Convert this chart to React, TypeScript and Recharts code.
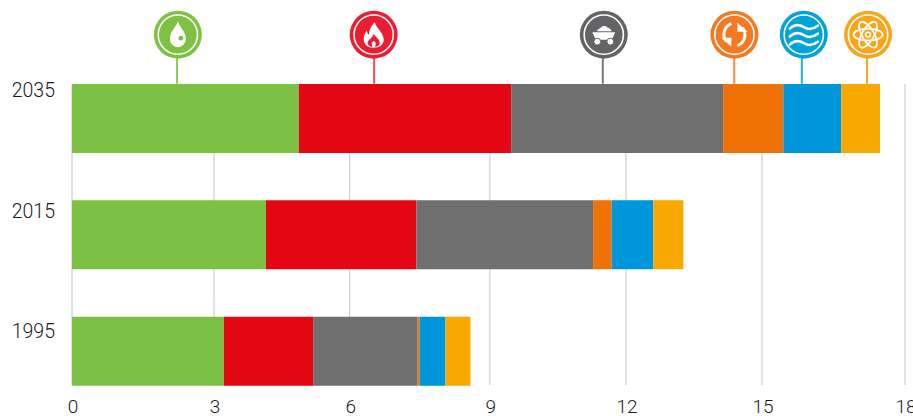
import React from "react";
import { BarChart, Bar, XAxis, YAxis, CartesianGrid, ReferenceDot } from "recharts";

const years = ["2035", "2015", "1995"];
const oil = [4.9, 4.19, 3.28];
const gas = [4.59, 3.25, 1.93];
const coal = [4.58, 3.82, 2.25];
const renewables = [1.3, 0.4, 0.05];
const hydro = [1.25, 0.9, 0.56];
const nuclear = [0.84, 0.65, 0.54];

const xTickValues = [0, 3.07, 6.0, 9.03, 11.97, 14.91, 18];
const xTickLabels = ["0", "3", "6", "9", "12", "15", "18"];
const yLabelLift = [28, 23.5, 20];

const seriesNames = ["oil", "gas", "coal", "renewables", "hydro", "nuclear"];
const barColors = ["#7CC143", "#E30613", "#6F6F6F", "#F07205", "#0096DB", "#F8A800"];
const pinColors = ["#7DC242", "#EE1C30", "#636466", "#F47920", "#00A3DA", "#F9A51A"];
const stemColors = ["#8CCB5A", "#F04656", "#7A7A7C", "#F68B3E", "#1BB5C9", "#F9A51A"];
const pinValues = [2.27, 6.53, 11.47, 14.31, 15.77, 17.18];
const pinShift = [0.8, -0.5, 1, 0.2, 2, 1];

const data = years.map((year, i) => ({
  year,
  oil: oil[i],
  gas: gas[i],
  coal: coal[i],
  renewables: renewables[i],
  hydro: hydro[i],
  nuclear: nuclear[i],
}));

const font = "Roboto, sans-serif";

function Icon({ kind, color }: { kind: number; color: string }) {
  const w = { fill: "none", stroke: "#fff", strokeLinecap: "round" as const };
  if (kind === 0)
    return (
      <g>
        <path d="M0,-13.5 C2,-7 8,-3 8,4 A8,8.5 0 1 1 -8,4 C-8,-3 -2,-7 0,-13.5Z" fill="#fff" />
        <circle cx={3} cy={3.5} r={2.4} fill={color} />
      </g>
    );
  if (kind === 1)
    return (
      <g>
        <path d="M1,-12.5 C3,-6 10,-2 10,5 C10,10 6,13 0,13 C-6,13 -10,10 -10,4 C-10,0 -8,-2 -7,-4 C-6.5,-2 -6,-1 -4.5,0 C-5,-5 -2,-9 1,-12.5Z" fill="#fff" />
        <path d="M0,-1 C1,2 6,4 6,8 C6,11 3,12 1.5,12 L2,8 L0,6 L-2,8 L-1.5,12 C-3,12 -6,11 -6,8 C-6,5 -1,3 0,-1Z" fill={color} />
      </g>
    );
  if (kind === 2)
    return (
      <g fill="#fff">
        <path d="M-7,-3.5 C-6,-6 -4,-6 -3,-7 C-1,-9 2,-9 3,-7.5 C5,-7 7,-6 8,-3.5Z" />
        <path d="M-11.5,-2.5 L11.5,-2.5 L8,5 L-8,5Z" />
        <circle cx={-6.5} cy={7} r={3.4} stroke={color} strokeWidth={1} />
        <circle cx={6.5} cy={7} r={3.4} stroke={color} strokeWidth={1} />
      </g>
    );
  if (kind === 3)
    return (
      <g>
        <path d="M-3,-11 A11.5,11.5 0 0 0 -8,7" {...w} strokeWidth={3} strokeLinecap="butt" />
        <path d="M3,11 A11.5,11.5 0 0 0 8,-7" {...w} strokeWidth={3} strokeLinecap="butt" />
        <path d="M-13,3 L-3,3 L-3,12Z" fill="#fff" />
        <path d="M13,-3 L3,-3 L3,-12Z" fill="#fff" />
      </g>
    );
  if (kind === 4)
    return (
      <g {...w} strokeWidth={2.6}>
        <path d="M-14,-6 C-9,-11 -4,-10 0,-7.5 C4,-5 9,-5 14,-9" />
        <path d="M-14,2 C-9,-3 -4,-2 0,0.5 C4,3 9,3 14,-1" />
        <path d="M-14,10 C-9,5 -4,6 0,8.5 C4,11 9,11 14,7" />
      </g>
    );
  return (
    <g {...w} strokeWidth={1.8}>
      <ellipse rx={14.5} ry={6} />
      <ellipse rx={14.5} ry={6} transform="rotate(60)" />
      <ellipse rx={14.5} ry={6} transform="rotate(120)" />
      <circle r={3.6} fill="#fff" stroke={color} strokeWidth={0.8} />
      <circle r={1.6} fill={color} stroke="none" />
    </g>
  );
}

function Pin(props: any) {
  const { cx, cy, index } = props;
  const color = pinColors[index];
  const iconY = cy - 83.5;
  const iconX = cx + pinShift[index];
  return (
    <g>
      <line x1={cx} x2={cx} y1={iconY + 20} y2={cy - 34.5} stroke={stemColors[index]} strokeWidth={2} />
      <circle cx={iconX} cy={iconY} r={24} fill={color} />
      <circle cx={iconX} cy={iconY} r={19.6} fill="none" stroke="#fff" strokeWidth={1.6} />
      <g transform={`translate(${iconX},${iconY})`}>
        <Icon kind={index} color={color} />
      </g>
    </g>
  );
}

function YTick(props: any) {
  const { x, y, payload, index } = props;
  return (
    <text x={x + 5} y={y - yLabelLift[index]} dy="0.36em" textAnchor="end" fontFamily={font} fontWeight={300} fontSize={19.5} fill="#1a1a1a">
      {payload.value}
    </text>
  );
}

function XTick(props: any) {
  const { x, y, index } = props;
  return (
    <text x={x + 1} y={y + 1} dy="0.36em" textAnchor="middle" fontFamily={font} fontWeight={300} fontSize={19} fill="#1a1a1a">
      {xTickLabels[index]}
    </text>
  );
}

export default function App() {
  return (
    <div style={{ position: "absolute", left: 0, top: 0, width: 913, height: 416, background: "#fff" }}>
      <BarChart
        width={913}
        height={416}
        data={data}
        layout="vertical"
        barSize={69}
        margin={{ top: 84, right: 8, bottom: 0, left: 0 }}
      >
        <CartesianGrid horizontal={false} vertical stroke="#c4c4c4" strokeWidth={1} />
        <XAxis
          type="number"
          domain={[0, 18]}
          ticks={xTickValues}
          interval={0}
          axisLine={false}
          tickLine={false}
          height={31}
          tick={<XTick />}
          tickMargin={14}
        />
        <YAxis
          type="category"
          dataKey="year"
          width={72}
          axisLine={false}
          tickLine={false}
          padding={{ top: -24, bottom: -24 }}
          tick={<YTick />}
          tickMargin={16}
        />
        {seriesNames.map((name, i) => (
          <Bar key={name} dataKey={name} stackId="a" fill={barColors[i]} isAnimationActive={false} />
        ))}
        {pinValues.map((v, i) => (
          <ReferenceDot
            key={seriesNames[i]}
            x={v}
            y={years[0]}
            ifOverflow="visible"
            shape={(p: any) => <Pin {...p} index={i} />}
          />
        ))}
      </BarChart>
    </div>
  );
}
